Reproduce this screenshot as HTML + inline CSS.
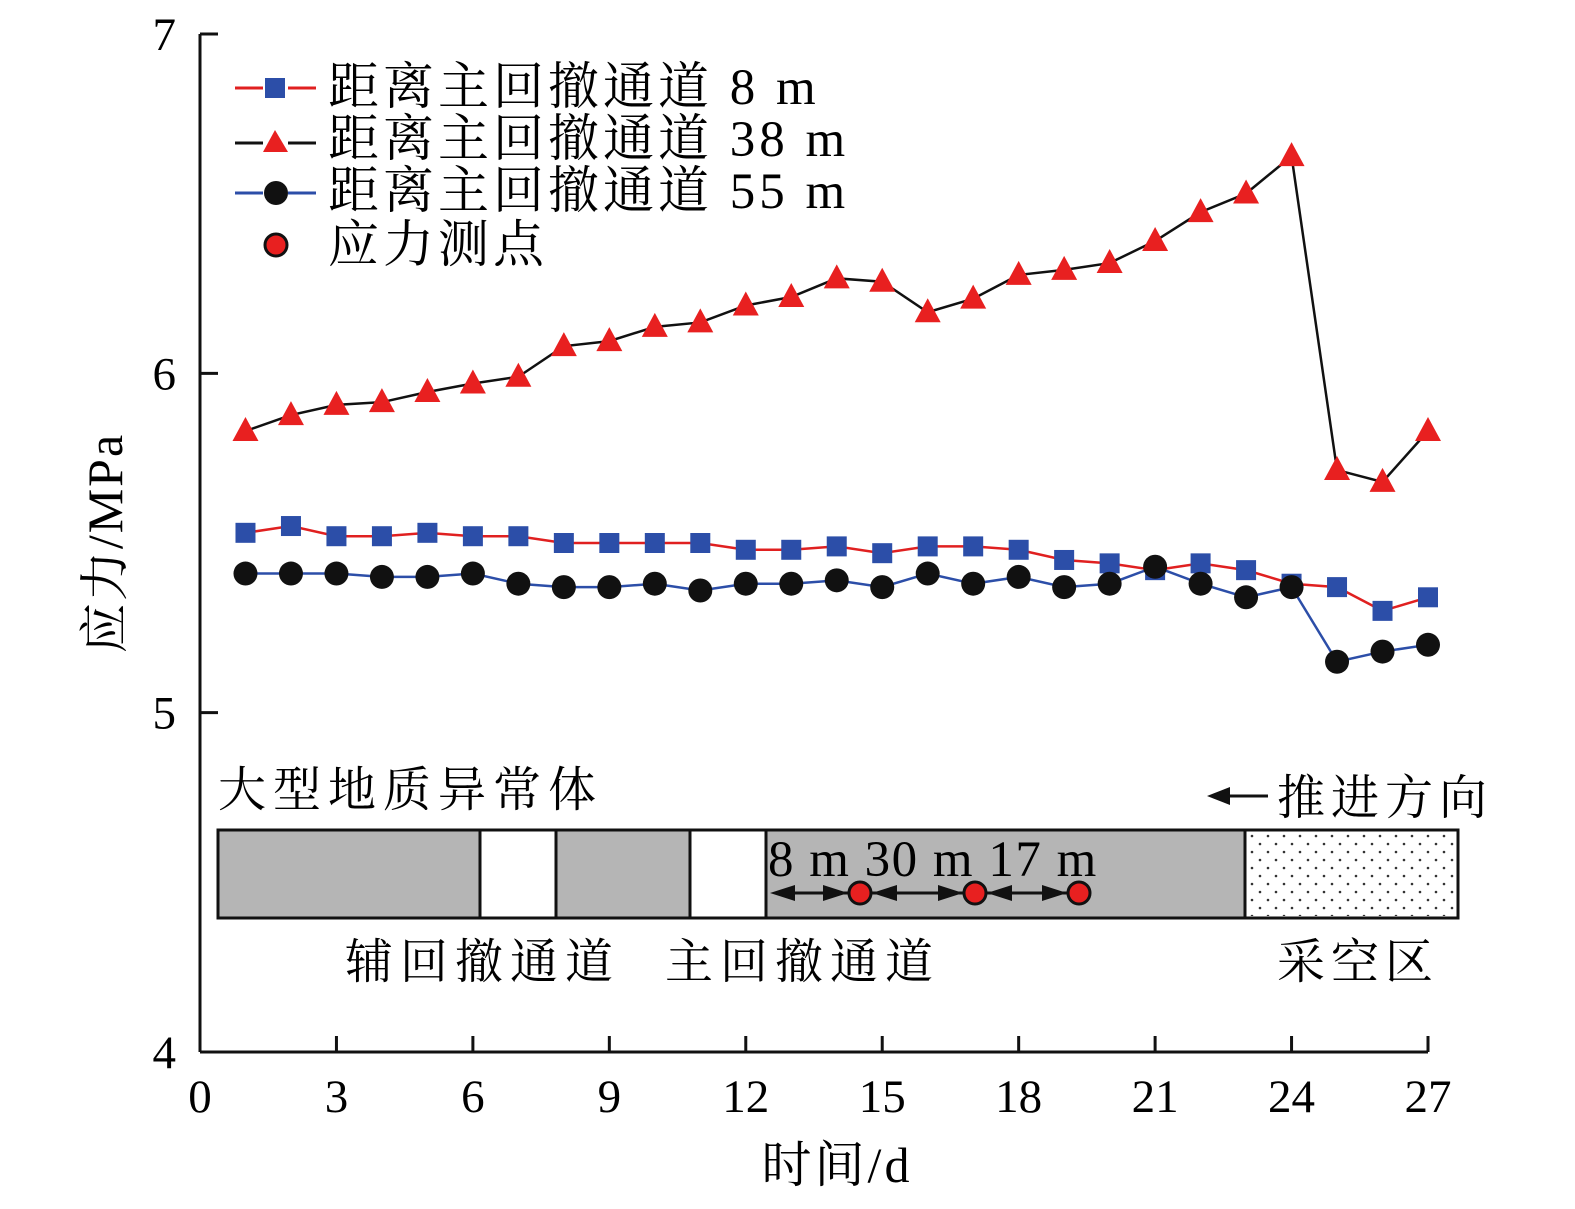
<!DOCTYPE html>
<html><head><meta charset="utf-8">
<style>
html,body{margin:0;padding:0;background:#fff;}
svg{display:block;font-family:"Liberation Serif","Noto Serif CJK SC",serif;}
</style></head>
<body>
<svg id="chart" width="1575" height="1209" viewBox="0 0 1575 1209" xmlns="http://www.w3.org/2000/svg">
<g id="axes"></g>
<g id="series"></g>
<g id="legend">
  <line x1="235" y1="88" x2="263" y2="88" stroke="#e02020" stroke-width="3"/>
  <line x1="288" y1="88" x2="316" y2="88" stroke="#e02020" stroke-width="3"/>
  <rect x="265" y="78" width="20" height="20" fill="#2c4ea8"/>
  <text x="328" y="104" font-size="51" letter-spacing="4">距离主回撤通道 8 m</text>
  <line x1="235" y1="143" x2="263" y2="143" stroke="#111" stroke-width="3"/>
  <line x1="288" y1="143" x2="316" y2="143" stroke="#111" stroke-width="3"/>
  <polygon points="275,130 263,152 288,152" fill="#e82020"/>
  <text x="328" y="156" font-size="51" letter-spacing="4">距离主回撤通道 38 m</text>
  <line x1="235" y1="193" x2="263" y2="193" stroke="#2c4ea8" stroke-width="3"/>
  <line x1="288" y1="193" x2="316" y2="193" stroke="#2c4ea8" stroke-width="3"/>
  <circle cx="276" cy="193" r="12" fill="#111"/>
  <text x="328" y="208" font-size="51" letter-spacing="4">距离主回撤通道 55 m</text>
  <circle cx="276" cy="245" r="11" fill="#e82020" stroke="#111" stroke-width="3"/>
  <text x="328" y="262" font-size="51" letter-spacing="4">应力测点</text>
</g>
<g id="diagram">
  <defs><pattern id="dots" width="16" height="16" patternUnits="userSpaceOnUse"><circle cx="4" cy="4" r="1.3" fill="#333"/><circle cx="12" cy="12" r="1.3" fill="#333"/></pattern></defs>
  <text x="218" y="806" font-size="48" letter-spacing="7">大型地质异常体</text>
  <text x="1277" y="814" font-size="48" letter-spacing="6">推进方向</text>
  <line x1="1225" y1="796" x2="1268" y2="796" stroke="#111" stroke-width="3"/>
  <polygon points="1207,796 1230,787 1230,805" fill="#111"/>
  <rect x="218" y="830" width="1240" height="88" fill="#b5b5b5" stroke="#111" stroke-width="3"/>
  <rect x="480" y="830" width="76" height="88" fill="#fff" stroke="#111" stroke-width="3"/>
  <rect x="690" y="830" width="76" height="88" fill="#fff" stroke="#111" stroke-width="3"/>
  <rect x="1245" y="830" width="213" height="88" fill="#fff" stroke="#111" stroke-width="3"/>
  <rect x="1246" y="832" width="210" height="84" fill="url(#dots)"/>
  <text x="768" y="876" font-size="51" letter-spacing="1.5">8 m 30 m 17 m</text>
  <g stroke="#111" stroke-width="3">
    <line x1="775" y1="893" x2="848" y2="893"/><line x1="872" y1="893" x2="963" y2="893"/><line x1="987" y1="893" x2="1067" y2="893"/>
  </g>
  <g fill="#111">
    <polygon points="770,893 795,885 795,901"/><polygon points="848,893 823,885 823,901"/>
    <polygon points="872,893 897,885 897,901"/><polygon points="963,893 938,885 938,901"/>
    <polygon points="987,893 1012,885 1012,901"/><polygon points="1067,893 1042,885 1042,901"/>
  </g>
  <circle cx="860" cy="893" r="11" fill="#e82020" stroke="#111" stroke-width="3"/>
  <circle cx="975" cy="893" r="11" fill="#e82020" stroke="#111" stroke-width="3"/>
  <circle cx="1079" cy="893" r="11" fill="#e82020" stroke="#111" stroke-width="3"/>
  <text x="345" y="978" font-size="48" letter-spacing="7">辅回撤通道</text>
  <text x="665" y="978" font-size="48" letter-spacing="7">主回撤通道</text>
  <text x="1277" y="978" font-size="48" letter-spacing="6">采空区</text>
</g>
</svg>
<script>
const days = [1,2,3,4,5,6,7,8,9,10,11,12,13,14,15,16,17,18,19,20,21,22,23,24,25,26,27];
const s8m = [5.53,5.55,5.52,5.52,5.53,5.52,5.52,5.50,5.50,5.50,5.50,5.48,5.48,5.49,5.47,5.49,5.49,5.48,5.45,5.44,5.42,5.44,5.42,5.38,5.37,5.30,5.34];
const s38m = [5.83,5.877,5.907,5.915,5.945,5.97,5.99,6.08,6.095,6.137,6.15,6.20,6.225,6.28,6.27,6.18,6.22,6.29,6.305,6.325,6.39,6.475,6.53,6.64,5.715,5.68,5.83];
const s55m = [5.41,5.41,5.41,5.40,5.40,5.41,5.38,5.37,5.37,5.38,5.36,5.38,5.38,5.39,5.37,5.41,5.38,5.40,5.37,5.38,5.43,5.38,5.34,5.37,5.15,5.18,5.20];
const xTicks = [0,3,6,9,12,15,18,21,24,27];
const yTicks = [4,5,6,7];

const NS = 'http://www.w3.org/2000/svg';
const X0 = 200, X1 = 1428, Y0 = 1052, Y1 = 34;
function xs(v){ return X0 + (v-0)/27*(X1-X0); }
function ys(v){ return Y0 - (v-4)/3*(Y0-Y1); }
function mk(tag, attrs, parent){
  const e = document.createElementNS(NS, tag);
  for (const k in attrs) e.setAttribute(k, attrs[k]);
  parent.appendChild(e); return e;
}
const axes = document.getElementById('axes');
const ax1 = mk('line',{x1:X0,y1:Y0,x2:X1,y2:Y0,stroke:'#111','stroke-width':3},axes);


const ax2 = mk('line',{x1:X0,y1:Y0,x2:X0,y2:Y1,stroke:'#111','stroke-width':3},axes);


xTicks.forEach(t=>{
  mk('line',{x1:xs(t),y1:Y0,x2:xs(t),y2:Y0-16,stroke:'#111','stroke-width':3},axes);
  const tx = mk('text',{x:xs(t),y:Y0+60,'font-size':47,'text-anchor':'middle'},axes);
  tx.textContent = t;
  
  
});
yTicks.forEach(t=>{
  mk('line',{x1:X0,y1:ys(t),x2:X0+18,y2:ys(t),stroke:'#111','stroke-width':3},axes);
  const tx = mk('text',{x:X0-24,y:ys(t)+16,'font-size':47,'text-anchor':'end'},axes);
  tx.textContent = t;
  
  
});
const xt = mk('text',{x:837,y:1182,'font-size':50,'text-anchor':'middle','letter-spacing':3},axes);
xt.textContent = '时间/d';


const yt = mk('text',{x:0,y:0,'font-size':50,'text-anchor':'middle','letter-spacing':2,transform:'translate(122,543) rotate(-90)'},axes);
yt.textContent = '应力/MPa';



const ser = document.getElementById('series');
function drawLine(vals, color, name){
  const pts = days.map((d,i)=>xs(d)+','+ys(vals[i])).join(' ');
  const pl = mk('polyline',{points:pts,fill:'none',stroke:color,'stroke-width':2.5},ser);
  
  
}
drawLine(s8m,'#e02020','line-8m');
drawLine(s38m,'#111','line-38m');
drawLine(s55m,'#2c4ea8','line-55m');
days.forEach((d,i)=>{
  const r = mk('rect',{x:xs(d)-10,y:ys(s8m[i])-10,width:20,height:20,fill:'#2c4ea8'},ser);
  
  
});
days.forEach((d,i)=>{
  const cx = xs(d), cy = ys(s38m[i]);
  const p = mk('polygon',{points:`${cx},${cy-14} ${cx-13},${cy+10} ${cx+13},${cy+10}`,fill:'#e82020'},ser);
  
  
});
days.forEach((d,i)=>{
  const c = mk('circle',{cx:xs(d),cy:ys(s55m[i]),r:12,fill:'#111'},ser);
  
  
});
</script>
</body></html>
